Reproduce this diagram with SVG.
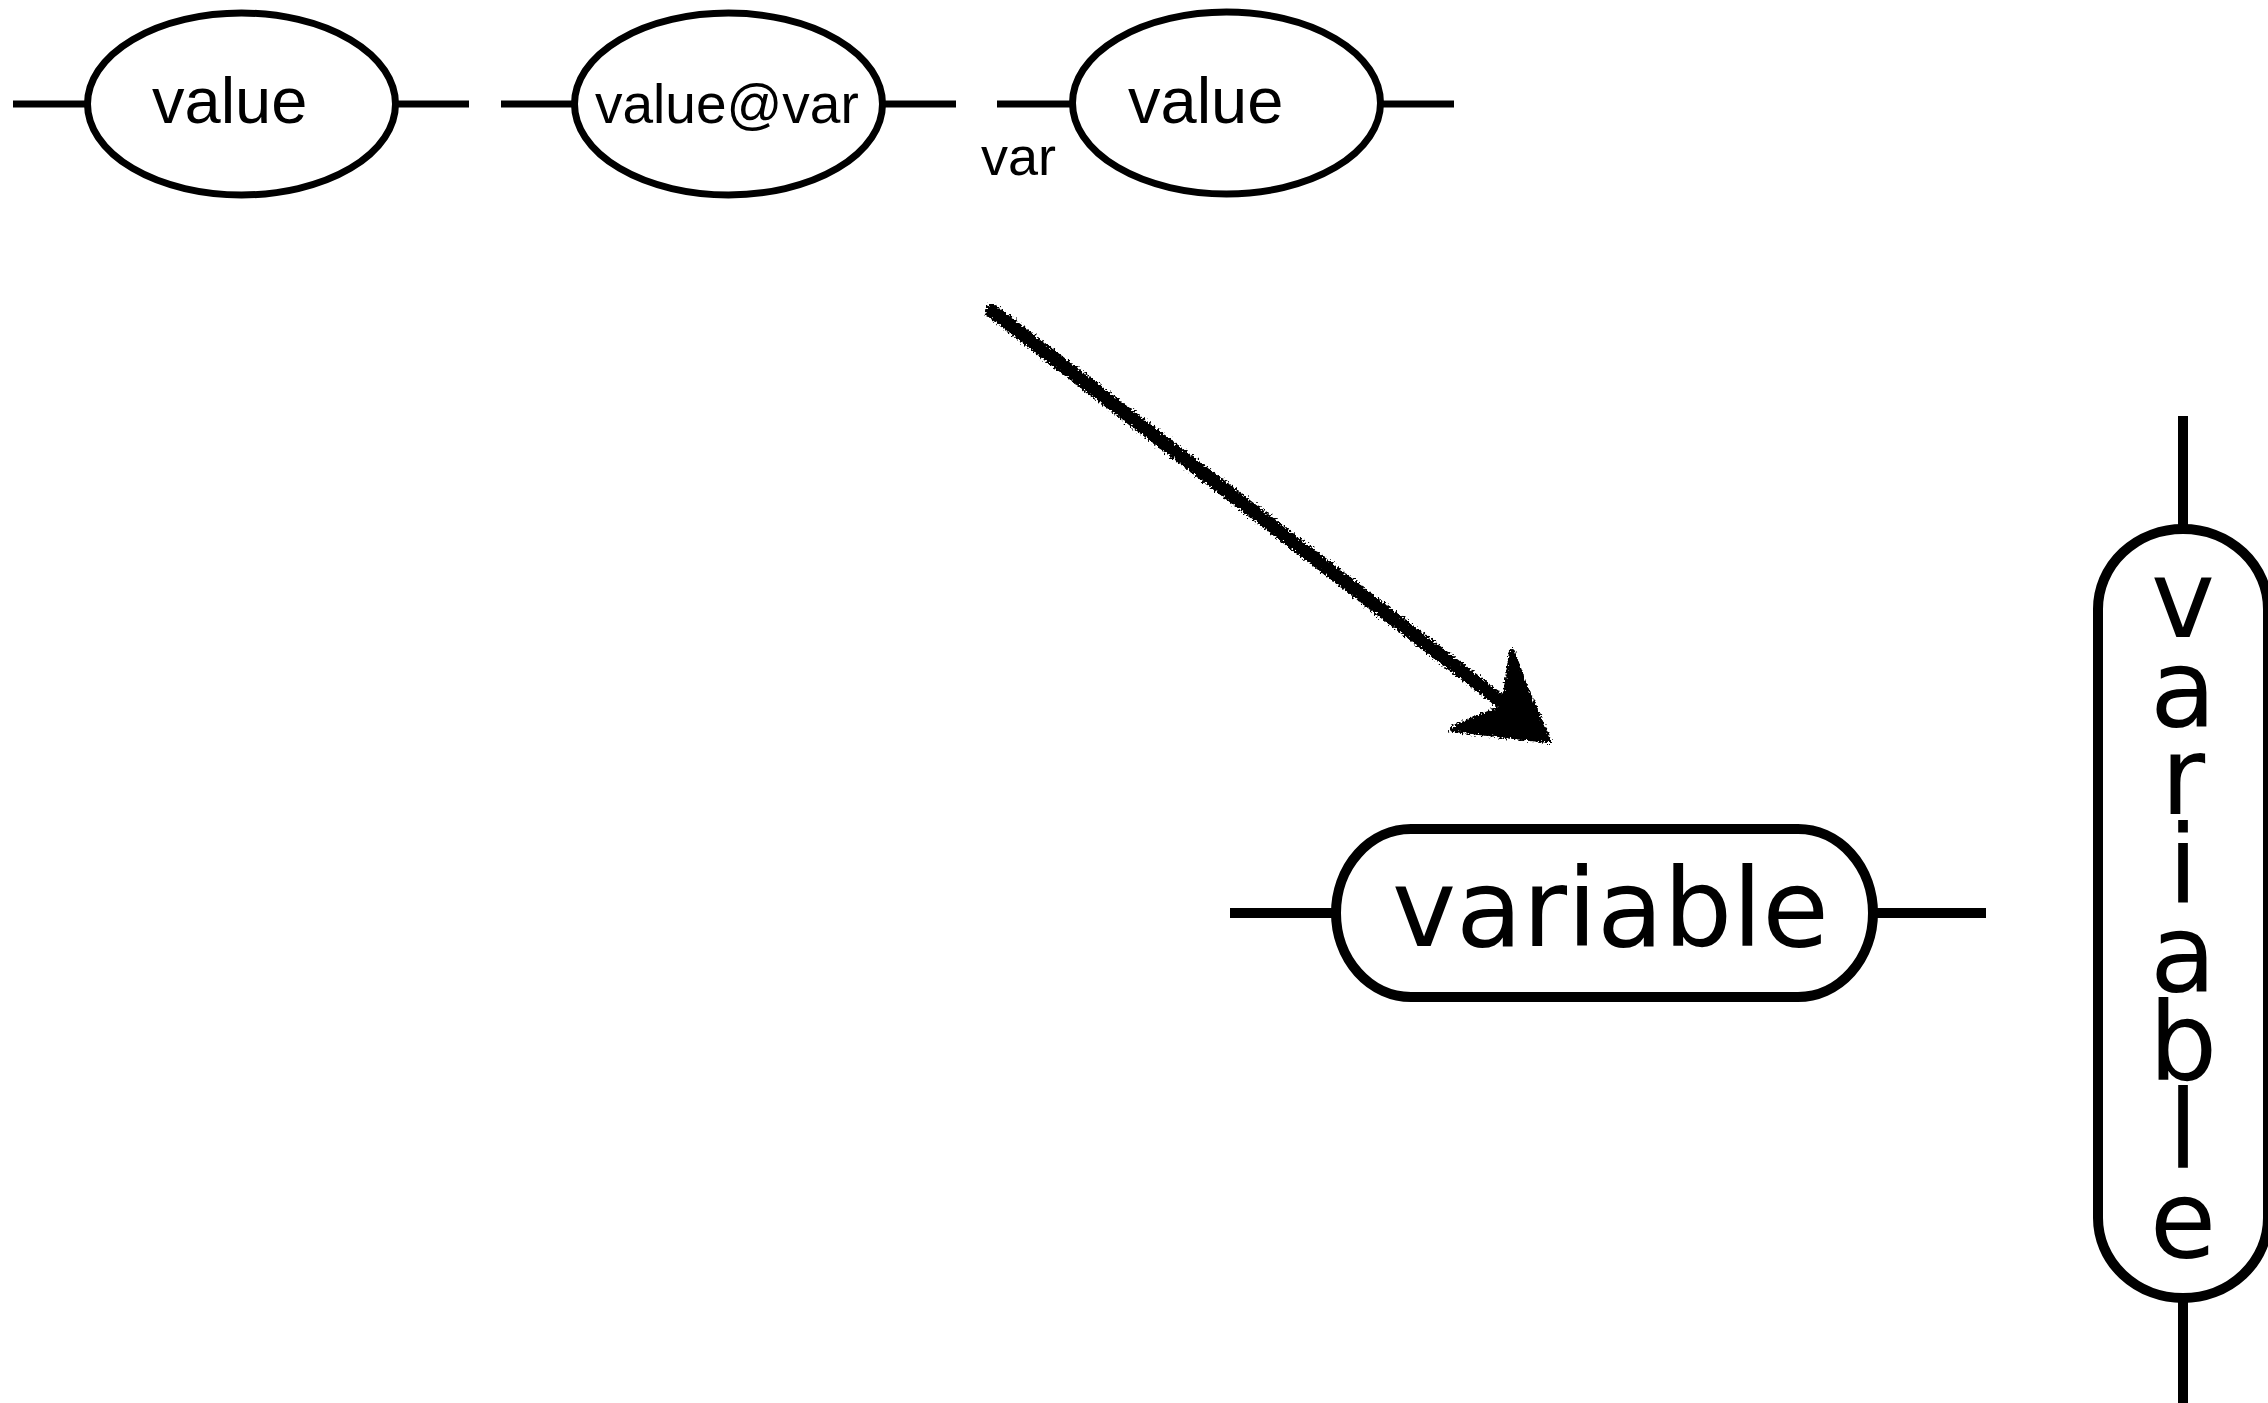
<svg xmlns="http://www.w3.org/2000/svg" width="2268" height="1403" viewBox="0 0 2268 1403">
<style>
  .thin { fill: none; stroke: #000; stroke-width: 7; }
  .thick { fill: none; stroke: #000; stroke-width: 10; }
  .node { fill: #fff; }
  .lab { font-family: "Liberation Sans", Arial, sans-serif; fill: #000; }
  .big { font-family: "DejaVu Sans", Verdana, sans-serif; font-size: 108px; fill: #000; }
</style>
<defs>
  <filter id="rough" x="-10%" y="-10%" width="120%" height="120%">
    <feTurbulence type="fractalNoise" baseFrequency="0.5" numOctaves="2" seed="3" result="n"/>
    <feDisplacementMap in="SourceGraphic" in2="n" scale="9" xChannelSelector="R" yChannelSelector="G"/>
  </filter>
</defs>
<rect width="2268" height="1403" fill="#fff"/>
<g id="connectors">
  <line class="thin" x1="13" y1="104" x2="86" y2="104"/>
  <line class="thin" x1="396" y1="104" x2="469" y2="104"/>
  <line class="thin" x1="501" y1="104" x2="574" y2="104"/>
  <line class="thin" x1="883" y1="104" x2="956" y2="104"/>
  <line class="thin" x1="997" y1="104" x2="1072" y2="104"/>
  <line class="thin" x1="1381" y1="104" x2="1454" y2="104"/>
  <line class="thick" x1="1230" y1="913" x2="1336" y2="913"/>
  <line class="thick" x1="1873" y1="913" x2="1986" y2="913"/>
  <line class="thick" x1="2183" y1="416" x2="2183" y2="529"/>
  <line class="thick" x1="2183" y1="1298" x2="2183" y2="1403"/>
  <g id="sketch-arrow" filter="url(#rough)">
    <line x1="992" y1="311" x2="1520" y2="716" stroke="#000" stroke-width="14" stroke-linecap="round"/>
    <polygon points="1512,652 1526,690 1548,740 1453,729 1478,718 1504,708 1508,680" fill="#000" stroke="#000" stroke-width="6" stroke-linejoin="round"/>
  </g>
</g>
<g id="node-value1">
  <ellipse class="thin node" cx="241.5" cy="104" rx="154" ry="91"/>
  <text class="lab" x="152" y="123" font-size="65">value</text>
</g>
<g id="node-valueatvar">
  <ellipse class="thin node" cx="728.5" cy="104" rx="154" ry="91"/>
  <text class="lab" x="595" y="123" font-size="55">value@var</text>
</g>
<g id="node-value2">
  <ellipse class="thin node" cx="1226.5" cy="103" rx="154" ry="91"/>
  <text class="lab" x="1128" y="123" font-size="65">value</text>
</g>
<g id="label-var">
  <text class="lab" x="981" y="175" font-size="54">var</text>
</g>
<g id="node-variable">
  <rect class="thick node" x="1336" y="829" width="537" height="168" rx="75" ry="84"/>
  <text class="big" x="1392" y="946" textLength="437" lengthAdjust="spacingAndGlyphs">variable</text>
</g>
<g id="node-variable-vertical">
  <rect class="thick node" x="2098" y="529" width="170" height="769" rx="85" ry="80"/>
  <text class="big" text-anchor="middle"><tspan x="2183" y="637">v</tspan><tspan x="2183" y="725.5">a</tspan><tspan x="2183" y="814">r</tspan><tspan x="2183" y="902.5">i</tspan><tspan x="2183" y="991">a</tspan><tspan x="2183" y="1079.5">b</tspan><tspan x="2183" y="1168">l</tspan><tspan x="2183" y="1256.5">e</tspan></text>
</g>
</svg>
